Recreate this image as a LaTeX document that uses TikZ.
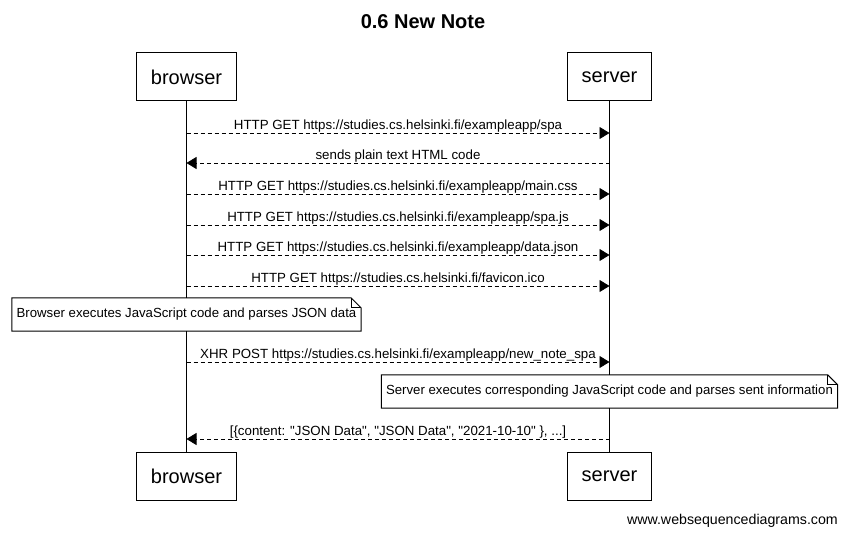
\documentclass[tikz,border=0pt]{standalone}
\usepackage{fontspec}
\setmainfont{Liberation Sans}[Ligatures=TeXOff]
\usetikzlibrary{arrows.meta, positioning}

\tikzset{
	actor/.style={draw, line width=1pt, inner xsep=14.5pt, minimum height=48pt, font=\fontsize{20}{24}\selectfont},
	msg/.style={line width=0.8pt, dash pattern=on 4pt off 3pt, -{Triangle[length=10pt,width=12pt]}},
	lbl/.style={above, inner sep=0.5pt, font=\fontsize{13.3}{15}\selectfont},
	note/.style={fill=white, inner xsep=4.5pt, minimum height=33pt, font=\fontsize{13.2}{15}\selectfont}
}

\begin{document}
\begin{tikzpicture}[x=1pt,y=-1pt]
	\useasboundingbox (0,0) rectangle (846,534);

	\node[font=\bfseries\fontsize{20}{24}\selectfont] (title) at (423,22) {0.6 New Note};

	\node[actor] (browser) at (186.5,77) {browser};
	\node[actor] (server) at (609.5,77) {server};
	\node[actor] (browserB) at (186.5,476) {browser};
	\node[actor] (serverB) at (609.5,476) {server};

	\draw[line width=1pt] (browser) -- (browserB);
	\draw[line width=1pt] (server) -- (serverB);

	\foreach \i/\y in {1/133,2/163,3/194,4/225,5/255,6/286,7/362,8/439}{
		\coordinate (b\i) at (browser |- 0,\y);
		\coordinate (s\i) at (server |- 0,\y);
	}

	\draw[msg] (b1) -- node[lbl] {HTTP GET https://studies.cs.helsinki.fi/exampleapp/spa} (s1);
	\draw[msg] (s2) -- node[lbl] {sends plain text HTML code} (b2);
	\draw[msg] (b3) -- node[lbl] {HTTP GET https://studies.cs.helsinki.fi/exampleapp/main.css} (s3);
	\draw[msg] (b4) -- node[lbl] {HTTP GET https://studies.cs.helsinki.fi/exampleapp/spa.js} (s4);
	\draw[msg] (b5) -- node[lbl] {HTTP GET https://studies.cs.helsinki.fi/exampleapp/data.json} (s5);
	\draw[msg] (b6) -- node[lbl] {HTTP GET https://studies.cs.helsinki.fi/favicon.ico} (s6);

	\node[note] (note1) at (browser |- 0,314.5) {Browser executes JavaScript code and parses JSON data};

	\draw[msg] (b7) -- node[lbl] {XHR POST https://studies.cs.helsinki.fi/exampleapp/new\_note\_spa} (s7);

	\node[note] (note2) at (server |- 0,391.5) {Server executes corresponding JavaScript code and parses sent information};

	\draw[msg] (s8) -- node[lbl] {[\{content: "JSON Data", "JSON Data", "2021-10-10" \}, ...]} (b8);

	% folded corners of the notes
	\foreach \n in {note1,note2}{
		\draw[line width=1pt] (\n.south west) -- (\n.north west) -- ([xshift=-10pt]\n.north east)
			-- ([yshift=-10pt]\n.north east) -- (\n.south east) -- cycle;
		\draw[line width=1pt] ([xshift=-10pt]\n.north east) -- ([xshift=-10pt,yshift=-10pt]\n.north east)
			-- ([yshift=-10pt]\n.north east);
	}

	\node[anchor=base east, inner sep=0, font=\fontsize{14.2}{16}\selectfont] (footer) at (838,524) {www.websequencediagrams.com};
\end{tikzpicture}
\end{document}
